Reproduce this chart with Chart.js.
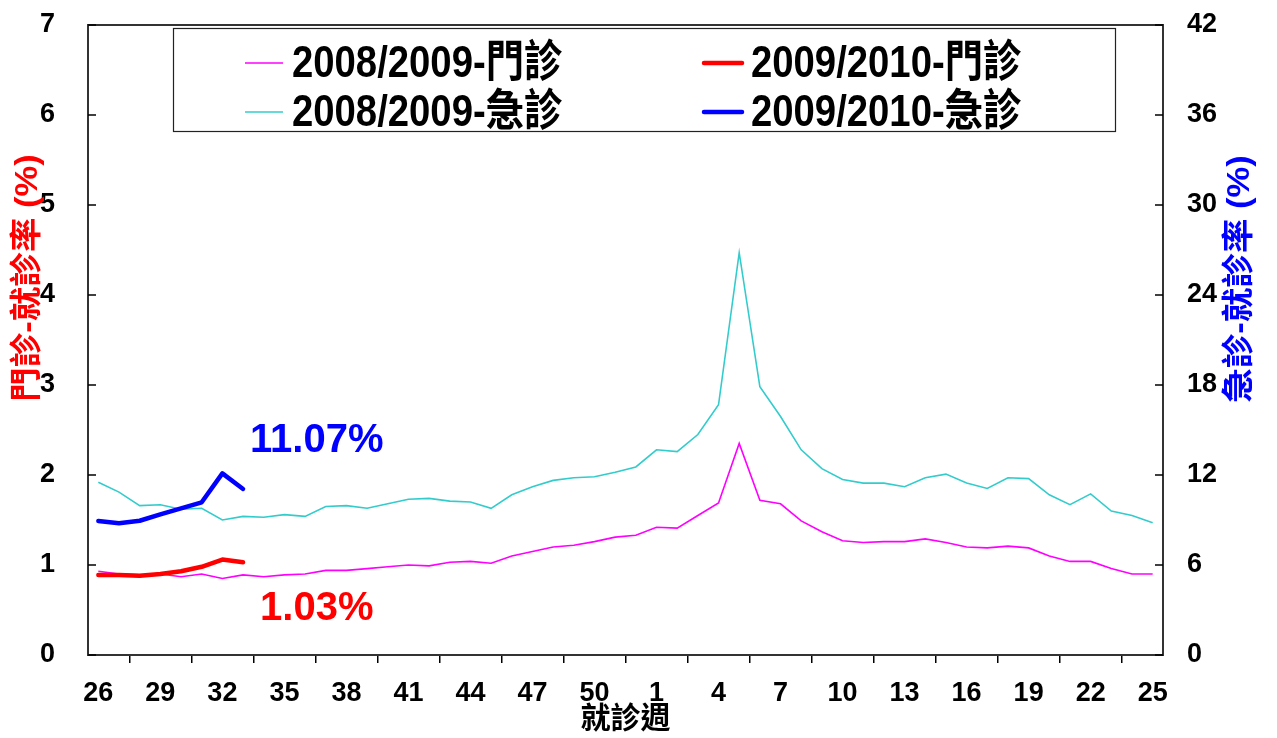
<!DOCTYPE html>
<html>
<head>
<meta charset="utf-8">
<script src="https://cdn.jsdelivr.net/npm/chart.js@4"></script>
<style>
html,body{margin:0;padding:0;background:#fff;}
#wrap{width:1277px;height:738px;position:relative;}
</style>
</head>
<body>
<div id="wrap"><canvas id="c" width="1277" height="738"></canvas></div>
<script>
// Categories: consultation weeks (week 26 of one year to week 25 of the next)
const weeks = [26,27,28,29,30,31,32,33,34,35,36,37,38,39,40,41,42,43,44,45,46,47,48,49,50,51,52,
               1,2,3,4,5,6,7,8,9,10,11,12,13,14,15,16,17,18,19,20,21,22,23,24,25];

// Series values (%)
const outpatient0809 = [0.93,0.90,0.89,0.90,0.87,0.90,0.85,0.89,0.87,0.89,0.90,0.94,0.94,0.96,0.98,1.00,0.99,1.03,1.04,1.02,1.10,1.15,1.20,1.22,1.26,1.31,1.33,
                        1.42,1.41,1.55,1.69,2.35,1.72,1.68,1.49,1.37,1.27,1.25,1.26,1.26,1.29,1.25,1.20,1.19,1.21,1.19,1.10,1.04,1.04,0.96,0.90,0.90];
const outpatient0910 = [0.89,0.89,0.88,0.90,0.93,0.98,1.06,1.03];
const emergency0809 = [11.52,10.86,9.96,10.02,9.72,9.78,9.00,9.24,9.18,9.36,9.24,9.90,9.96,9.78,10.08,10.38,10.44,10.26,10.20,9.78,10.68,11.22,11.64,11.82,11.88,12.18,12.54,
                       13.68,13.56,14.70,16.68,26.82,17.88,15.90,13.68,12.42,11.70,11.46,11.46,11.22,11.82,12.06,11.46,11.10,11.82,11.76,10.68,10.02,10.74,9.60,9.30,8.82];
const emergency0910 = [8.93,8.78,8.95,9.38,9.78,10.18,12.11,11.07];

// Tick settings
const leftTicks = {min:0, max:7, step:1};
const rightTicks = {min:0, max:42, step:6};

// Series labels and annotation texts
const seriesNames = ['2008/2009-門診','2009/2010-門診','2008/2009-急診','2009/2010-急診'];
const leftTitle = '門診-就診率 (%)';
const rightTitle = '急診-就診率 (%)';
const xTitle = '就診週';
const latestEmergencyText = '11.07%';
const latestOutpatientText = '1.03%';

const CJK = '"Noto Sans CJK TC"';
const boldFont = '"Liberation Sans", Arial, ' + CJK;

const decorPlugin = {
  id:'decor',
  afterDraw(chart){
    const ctx = chart.ctx;
    const a = chart.chartArea;
    const ys = chart.scales.y, yr = chart.scales.y1, xs = chart.scales.x;
    ctx.save();
    // frame
    ctx.strokeStyle = '#333';
    ctx.lineWidth = 2;
    ctx.strokeRect(a.left, a.top, a.right - a.left, a.bottom - a.top);
    // inward y ticks
    ctx.strokeStyle = '#000';
    ctx.lineWidth = 1.5;
    ys.ticks.forEach((t,i)=>{
      const p = ys.getPixelForTick(i);
      ctx.beginPath(); ctx.moveTo(a.left, p); ctx.lineTo(a.left+8, p); ctx.stroke();
    });
    yr.ticks.forEach((t,i)=>{
      const p = yr.getPixelForTick(i);
      ctx.beginPath(); ctx.moveTo(a.right, p); ctx.lineTo(a.right-8, p); ctx.stroke();
    });
    // axis titles (rotated, reading bottom-to-top)
    ctx.font = 'bold 32px ' + boldFont;
    ctx.textAlign = 'center';
    ctx.textBaseline = 'middle';
    ctx.save();
    ctx.translate(28, 278); ctx.rotate(-Math.PI/2); ctx.scale(1.08,1);
    ctx.fillStyle = '#FF0000'; ctx.fillText(leftTitle, 0, 0);
    ctx.restore();
    ctx.save();
    ctx.translate(1240, 279); ctx.rotate(-Math.PI/2); ctx.scale(1.08,1);
    ctx.fillStyle = '#0000FF'; ctx.fillText(rightTitle, 0, 0);
    ctx.restore();
    // legend box
    ctx.fillStyle = '#fff';
    ctx.fillRect(173, 28, 942, 103);
    ctx.strokeStyle = '#222';
    ctx.lineWidth = 1.2;
    ctx.strokeRect(173.5, 28.5, 942, 103);
    const slots = [
      {ds:2, x:245, y:63},
      {ds:0, x:704, y:63},
      {ds:3, x:245, y:112},
      {ds:1, x:704, y:112}
    ];
    ctx.textAlign = 'left';
    ctx.textBaseline = 'middle';
    slots.forEach(s=>{
      const d = chart.data.datasets[s.ds];
      ctx.strokeStyle = d.borderColor;
      ctx.lineWidth = d.borderWidth;
      ctx.lineCap = d.borderWidth > 2 ? 'round' : 'butt';
      ctx.beginPath(); ctx.moveTo(s.x, s.y); ctx.lineTo(s.x+38, s.y); ctx.stroke();
      ctx.save();
      ctx.translate(s.x+47, s.y+2);
      ctx.scale(0.87, 1);
      ctx.font = 'bold 44px ' + boldFont;
      ctx.fillStyle = '#000';
      ctx.fillText(d.label, 0, 0);
      ctx.restore();
    });
    // annotation texts near the latest values
    ctx.font = 'bold 40px ' + boldFont;
    ctx.textBaseline = 'middle';
    ctx.fillStyle = '#0000FF';
    ctx.fillText(latestEmergencyText, xs.getPixelForValue(7) + 7, yr.getPixelForValue(14.3));
    ctx.fillStyle = '#FF0000';
    ctx.fillText(latestOutpatientText, xs.getPixelForValue(7) + 17, ys.getPixelForValue(0.51));
    ctx.restore();
  }
};

new Chart(document.getElementById('c'), {
  type:'line',
  data:{
    labels: weeks.map(String),
    datasets:[
      {label:seriesNames[1], data:outpatient0910, yAxisID:'y', borderColor:'#FF0000', borderWidth:4.5, pointRadius:0, tension:0, borderJoinStyle:'round', borderCapStyle:'round'},
      {label:seriesNames[3], data:emergency0910, yAxisID:'y1', borderColor:'#0000FF', borderWidth:4.5, pointRadius:0, tension:0, borderJoinStyle:'round', borderCapStyle:'round'},
      {label:seriesNames[0], data:outpatient0809, yAxisID:'y', borderColor:'#FF00FF', borderWidth:1.6, pointRadius:0, tension:0},
      {label:seriesNames[2], data:emergency0809, yAxisID:'y1', borderColor:'#33CCCC', borderWidth:1.6, pointRadius:0, tension:0}
    ]
  },
  options:{
    responsive:false,
    animation:false,
    events:[],
    layout:{autoPadding:false, padding:{top:25,left:0,right:0,bottom:0}},
    plugins:{legend:{display:false}, tooltip:{enabled:false}},
    scales:{
      x:{
        type:'category',
        offset:true,
        grid:{display:true, drawOnChartArea:false, offset:true, tickLength:8, color:'#000', lineWidth:1.5},
        border:{display:true, color:'#333', width:2},
        ticks:{
          autoSkip:false, maxRotation:0, minRotation:0, padding:14,
          color:'#000', font:{family:boldFont, size:27, weight:'bold'},
          callback:function(v, i){ return i % 3 === 0 ? this.getLabelForValue(v) : null; }
        },
        title:{display:true, text:xTitle, color:'#000', font:{family:boldFont, size:30, weight:'bold'}, padding:{top:0,bottom:0}},
        afterFit(s){ s.height = 83; }
      },
      y:{
        position:'left', min:leftTicks.min, max:leftTicks.max,
        ticks:{stepSize:leftTicks.step, padding:3, color:'#000', font:{family:boldFont, size:27, weight:'bold'}},
        grid:{display:true, drawOnChartArea:false, drawTicks:true, tickLength:30, color:'rgba(0,0,0,0)'},
        border:{display:true, color:'#333', width:2},
        afterFit(s){ s.width = 88; }
      },
      y1:{
        position:'right', min:rightTicks.min, max:rightTicks.max,
        ticks:{stepSize:rightTicks.step, padding:3, color:'#000', font:{family:boldFont, size:27, weight:'bold'}},
        grid:{display:true, drawOnChartArea:false, drawTicks:true, tickLength:21, color:'rgba(0,0,0,0)'},
        border:{display:true, color:'#333', width:2},
        afterFit(s){ s.width = 114; }
      }
    }
  },
  plugins:[decorPlugin]
});
</script>
</body>
</html>
